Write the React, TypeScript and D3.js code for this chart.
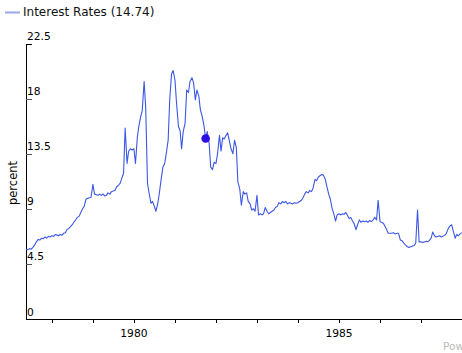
import React, { useEffect, useRef } from 'react';
import * as d3 from 'd3';

// semi-monthly readings (1st and 15th), starting 15 May 1977
const rates1977 = [5.7, 5.65, 5.75, 5.7, 5.85, 6.05, 6.3, 6.5, 6.45, 6.6, 6.55, 6.7, 6.6, 6.75, 6.7];
const rates1978 = [6.8, 6.75, 6.9, 6.85, 6.8, 6.9, 6.85, 7.0, 7.05, 7.3, 7.4, 7.55, 7.7, 7.9, 8.1, 8.3, 8.4, 8.7, 9.0, 9.2, 9.8, 9.85, 9.9, 9.95];
const rates1979 = [11.0, 10.2, 10.15, 10.1, 10.2, 10.1, 10.2, 10.05, 10.1, 10.3, 10.2, 10.4, 10.45, 10.5, 10.8, 10.9, 11.1, 11.5, 11.9, 15.6, 12.7, 13.7, 13.9, 13.8];
const rates1980 = [13.9, 12.7, 14.9, 15.8, 16.5, 17.0, 19.4, 17.3, 11.1, 10.3, 9.45, 9.6, 9.2, 8.8, 9.45, 10.3, 11.5, 12.4, 12.7, 13.5, 14.6, 17.9, 20.0, 20.3];
const rates1981 = [19.5, 17.6, 15.7, 15.4, 13.9, 15.3, 16.0, 18.7, 18.5, 19.4, 19.7, 19.3, 17.9, 18.7, 18.2, 17.1, 16.5, 15.85, 14.74, 15.3, 14.35, 12.4, 12.2, 12.8];
const rates1982 = [12.7, 13.5, 15.0, 13.7, 14.8, 14.7, 15.0, 15.2, 14.5, 13.9, 13.5, 14.6, 14.0, 11.2, 10.6, 9.3, 10.4, 10.2, 10.3, 9.6, 9.4, 8.9, 9.0, 8.8];
const rates1983 = [10.1, 8.5, 8.6, 8.5, 8.6, 9.1, 8.8, 8.6, 8.7, 8.8, 8.9, 9.1, 9.2, 9.5, 9.4, 9.6, 9.5, 9.6, 9.4, 9.5, 9.45, 9.4, 9.5, 9.45];
const rates1984 = [9.5, 9.6, 9.7, 9.9, 10.2, 10.4, 10.3, 10.5, 10.4, 10.7, 11.4, 11.3, 11.6, 11.7, 11.8, 11.75, 11.4, 10.8, 10.2, 9.8, 9.0, 8.6, 8.0, 8.5];
const rates1985 = [8.6, 8.5, 8.6, 8.55, 8.7, 8.5, 8.2, 8.3, 8.0, 7.8, 7.3, 7.7, 8.1, 7.9, 8.0, 7.95, 8.0, 7.9, 8.05, 7.95, 8.1, 8.3, 8.1, 9.7];
const rates1986 = [7.95, 7.9, 7.8, 7.55, 7.3, 7.0, 7.0, 7.0, 7.05, 6.95, 7.0, 7.0, 6.45, 6.4, 6.2, 6.05, 5.9, 5.85, 5.9, 5.95, 6.0, 6.2, 8.9, 6.3];
const rates1987 = [6.3, 6.25, 6.3, 6.35, 6.3, 6.4, 6.6, 7.1, 6.8, 6.7, 6.75, 6.8, 6.7, 6.75, 6.85, 7.0, 7.4, 7.6, 7.7, 7.2, 6.6, 6.9, 6.8, 6.95];
const rates1988 = [7.05];

const rates = [
  ...rates1977, ...rates1978, ...rates1979, ...rates1980, ...rates1981, ...rates1982,
  ...rates1983, ...rates1984, ...rates1985, ...rates1986, ...rates1987, ...rates1988,
];
const dates = rates.map((_, i) => new Date(1977, 4 + Math.floor((i + 1) / 2), i % 2 === 0 ? 15 : 1));

const yTicks = [0, 4.5, 9, 13.5, 18, 22.5];
const labelYears = [1980, 1985];
const seriesName = 'Interest Rates';
const highlightValue = 14.74;

const width = 462;
const height = 353;
const font = '"DejaVu Sans", Verdana, sans-serif';

const Chart = () => {
  const svgRef = useRef<SVGSVGElement>(null);

  useEffect(() => {
    const svg = d3.select(svgRef.current);
    svg.selectAll('*').remove();

    const left = 26;
    const axisY = 319;
    const top = 43.5;

    const x = d3.scaleTime()
      .domain(d3.extent(dates) as [Date, Date])
      .range([left, width]);
    const y = d3.scaleLinear().domain([0, 22.5]).range([axisY, top]);

    // legend
    svg.append('line')
      .attr('x1', 5).attr('x2', 20).attr('y1', 12.5).attr('y2', 12.5)
      .attr('stroke', '#9aa6ee').attr('stroke-width', 2);
    svg.append('text')
      .attr('x', 23).attr('y', 16)
      .style('font-family', font).style('font-size', '12px').attr('fill', '#111')
      .text(`${seriesName} (${highlightValue})`);

    // y axis
    svg.append('line')
      .attr('x1', left + 0.5).attr('x2', left + 0.5)
      .attr('y1', Math.round(top)).attr('y2', axisY + 0.5)
      .attr('stroke', '#000');
    yTicks.forEach(v => {
      const yy = Math.round(y(v)) + 0.5;
      if (v > 0) {
        svg.append('line')
          .attr('x1', left).attr('x2', left + 6).attr('y1', yy).attr('y2', yy)
          .attr('stroke', v === 22.5 ? '#000' : '#555');
      }
      svg.append('text')
        .attr('x', left + 1).attr('y', y(v) - 3.5)
        .style('font-family', font).style('font-size', '10.7px').attr('fill', '#000')
        .text(String(v));
    });

    svg.append('text')
      .attr('transform', `translate(17,183) rotate(-90)`)
      .attr('text-anchor', 'middle')
      .style('font-family', font).style('font-size', '11.5px').attr('fill', '#000')
      .text('percent');

    // x axis
    svg.append('line')
      .attr('x1', left).attr('x2', width).attr('y1', axisY + 0.5).attr('y2', axisY + 0.5)
      .attr('stroke', '#000');
    const years = d3.timeYear.range(x.domain()[0], x.domain()[1]);
    years.forEach(d => {
      const xx = Math.round(x(d)) + 0.5;
      svg.append('line')
        .attr('x1', xx).attr('x2', xx).attr('y1', axisY).attr('y2', axisY + 4)
        .attr('stroke', '#000');
      if (labelYears.includes(d.getFullYear())) {
        svg.append('text')
          .attr('x', x(d)).attr('y', axisY + 17.5)
          .attr('text-anchor', 'middle')
          .style('font-family', font).style('font-size', '10.7px').attr('fill', '#000')
          .text(String(d.getFullYear()));
      }
    });

    // series
    const line = d3.line<number>()
      .x((_, i) => x(dates[i]))
      .y(d => y(d));
    svg.append('path')
      .datum(rates)
      .attr('d', line)
      .attr('fill', 'none')
      .attr('stroke', '#3b57e3')
      .attr('stroke-width', 1.1)
      .attr('stroke-linejoin', 'round');

    const hi = rates.indexOf(highlightValue);
    svg.append('circle')
      .attr('cx', x(dates[hi])).attr('cy', y(rates[hi]))
      .attr('r', 4.3)
      .attr('fill', '#2a0fe6');

    svg.append('text')
      .attr('x', 443).attr('y', 350)
      .style('font-family', font).style('font-size', '10.5px').attr('fill', '#bbb')
      .text('Powered by');
  }, []);

  return (
    <svg
      ref={svgRef}
      width={width}
      height={height}
      style={{ position: 'absolute', left: 0, top: 0, background: '#fff' }}
    />
  );
};

export default function App() {
  return <Chart />;
}
